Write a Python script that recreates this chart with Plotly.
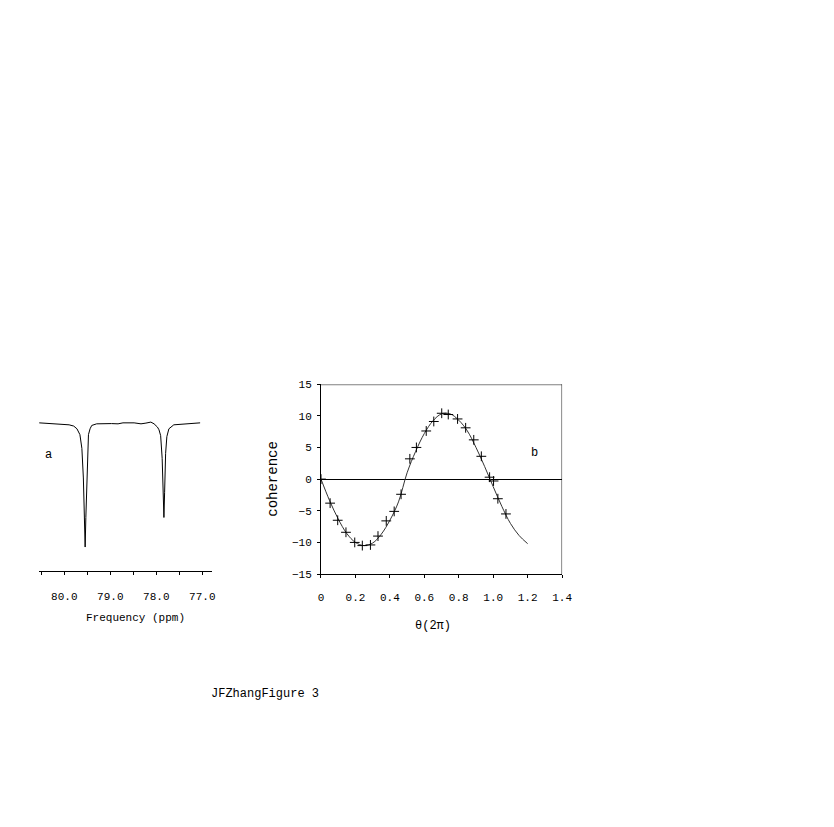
import plotly.graph_objects as go

# ---------------- Panel a: NMR spectrum ----------------
spec_ppm = [80.545, 80.260, 80.089, 79.982, 79.896, 79.796, 79.725, 79.661, 79.618,
            79.586, 79.564, 79.547, 79.532, 79.511, 79.494, 79.475, 79.440, 79.404,
            79.297, 79.190, 79.125, 78.975, 78.832, 78.725, 78.483, 78.333, 78.226,
            78.119, 78.049, 77.976, 77.942, 77.906, 77.873, 77.852, 77.835, 77.820,
            77.798, 77.771, 77.727, 77.620, 77.406, 77.192, 77.048]
spec_int = [0.0, -0.006, -0.010, -0.013, -0.016, -0.026, -0.048, -0.095, -0.206,
            -0.444, -0.762, -1.0, -0.762, -0.418, -0.206, -0.095, -0.048, -0.021,
            -0.008, -0.006, -0.010, -0.006, -0.008, 0.0, 0.0, -0.008, -0.002,
            0.006, -0.008, -0.034, -0.056, -0.103, -0.286, -0.524, -0.762, -0.563,
            -0.246, -0.111, -0.048, -0.016, -0.008, -0.002, 0.0]
a_tickvals = [80.5, 80.0, 79.5, 79.0, 78.5, 78.0, 77.5, 77.0]
a_ticktext = ["", "80.0", "", "79.0", "", "78.0", "", "77.0"]

# ---------------- Panel b: coherence vs theta ----------------
meas_theta = [0.0, 0.053, 0.097, 0.145, 0.196, 0.24, 0.287, 0.331, 0.379, 0.425, 0.465,
              0.516, 0.554, 0.611, 0.655, 0.701, 0.739, 0.793, 0.84, 0.887, 0.931,
              0.979, 1.002, 1.027, 1.074]
meas_coh = [0.0, -3.8, -6.5, -8.4, -10.0, -10.5, -10.4, -9.0, -6.6, -5.1, -2.4,
            3.2, 5.0, 7.6, 9.1, 10.4, 10.2, 9.5, 8.1, 6.2, 3.6,
            0.3, -0.3, -3.1, -5.5]
fit_theta = [0.0, 0.05, 0.10, 0.15, 0.20, 0.25, 0.30, 0.35, 0.40, 0.45, 0.50, 0.55,
             0.60, 0.65, 0.70, 0.75, 0.80, 0.85, 0.90, 0.95, 1.00, 1.05, 1.10, 1.15, 1.20]
fit_coh = [0.0, -3.4, -6.3, -8.6, -10.0, -10.5, -10.1, -8.7, -6.5, -3.6, 1.0, 4.4,
           7.2, 9.2, 10.3, 10.3, 9.3, 7.6, 5.0, 2.0, -1.2, -4.3, -7.0, -8.9, -10.2]
b_xtickvals = [0, 0.2, 0.4, 0.6, 0.8, 1.0, 1.2, 1.4]
b_xticktext = ["0", "0.2", "0.4", "0.6", "0.8", "1.0", "1.2", "1.4"]
b_ytickvals = [-15, -10, -5, 0, 5, 10, 15]
b_yticktext = ["\u221215", "\u221210", "\u22125", "0", "5", "10", "15"]

# page body has an 8px margin, so the figure is sized/placed to compensate
OFF = 8
W, H = 834 - 2 * OFF, 827 - 2 * OFF
FONT = "Liberation Mono"


def px(x):
    return (x - OFF) / W


def py(y):
    return 1 - (y - OFF) / H


fig = go.Figure()
fig.add_trace(go.Scatter(x=spec_ppm, y=spec_int, mode="lines",
                         line=dict(color="black", width=1), xaxis="x", yaxis="y",
                         showlegend=False))
fig.add_trace(go.Scatter(x=fit_theta, y=fit_coh, mode="lines",
                         line=dict(color="#333333", width=1, shape="spline"),
                         xaxis="x2", yaxis="y2", showlegend=False))
fig.add_trace(go.Scatter(x=meas_theta, y=meas_coh, mode="markers",
                         marker=dict(symbol="cross-thin", size=7,
                                     line=dict(color="black", width=1)),
                         xaxis="x2", yaxis="y2", showlegend=False))

tickfont = dict(family=FONT, size=11, color="black")


def ann(text, x, y, size=11, angle=0):
    return dict(text=text, x=px(x), y=py(y), xref="paper", yref="paper",
                xanchor="center", yanchor="middle", showarrow=False,
                textangle=angle, font=dict(family=FONT, size=size, color="black"))


fig.update_layout(
    width=W, height=H,
    margin=dict(l=0, r=0, t=0, b=0),
    paper_bgcolor="white", plot_bgcolor="white",
    font=dict(family=FONT, color="black"),
    xaxis=dict(domain=[px(36), px(212.7)], range=[80.56, 76.78], anchor="y",
               tickvals=a_tickvals, ticktext=a_ticktext, ticks="outside", ticklen=3,
               tickcolor="black", showline=True, linecolor="black", linewidth=1,
               showgrid=False, zeroline=False, tickfont=tickfont, ticklabelstandoff=12),
    yaxis=dict(domain=[py(574), py(420)], range=[-1.190, 0.0317], anchor="x",
               visible=False, showgrid=False, zeroline=False),
    xaxis2=dict(domain=[px(323), px(568)], range=[0, 1.4], anchor="y2",
                tickvals=b_xtickvals, ticktext=b_xticktext, ticks="outside", ticklen=3,
                tickcolor="black", showline=True, linecolor="black", linewidth=1,
                showgrid=False, zeroline=False, tickfont=tickfont, ticklabelstandoff=10),
    yaxis2=dict(domain=[py(577.5), py(384.7)], range=[-15, 15], anchor="x2",
                tickvals=b_ytickvals, ticktext=b_yticktext, ticks="outside", ticklen=3,
                tickcolor="black", showline=True, linecolor="black", linewidth=1,
                showgrid=False, zeroline=True, zerolinecolor="black", zerolinewidth=1,
                tickfont=tickfont, ticklabelstandoff=3),
    shapes=[
        dict(type="line", xref="x2", yref="y2", x0=0, x1=1.4, y0=15, y1=15,
             line=dict(color="#808080", width=2)),
        dict(type="line", xref="x2", yref="y2", x0=1.4, x1=1.4, y0=-15, y1=15,
             line=dict(color="black", width=1)),
    ],
    annotations=[
        ann("Frequency (ppm)", 135, 622, size=11),
        ann("a", 46, 457, size=12),
        ann("b", 540, 455, size=12),
        ann("coherence", 274, 481, size=14, angle=-90),
        ann("\u03b8(2\u03c0)", 437, 630, size=12),
        ann("JFZhangFigure 3", 266, 699, size=12),
    ],
)

fig.write_html("out.html")
